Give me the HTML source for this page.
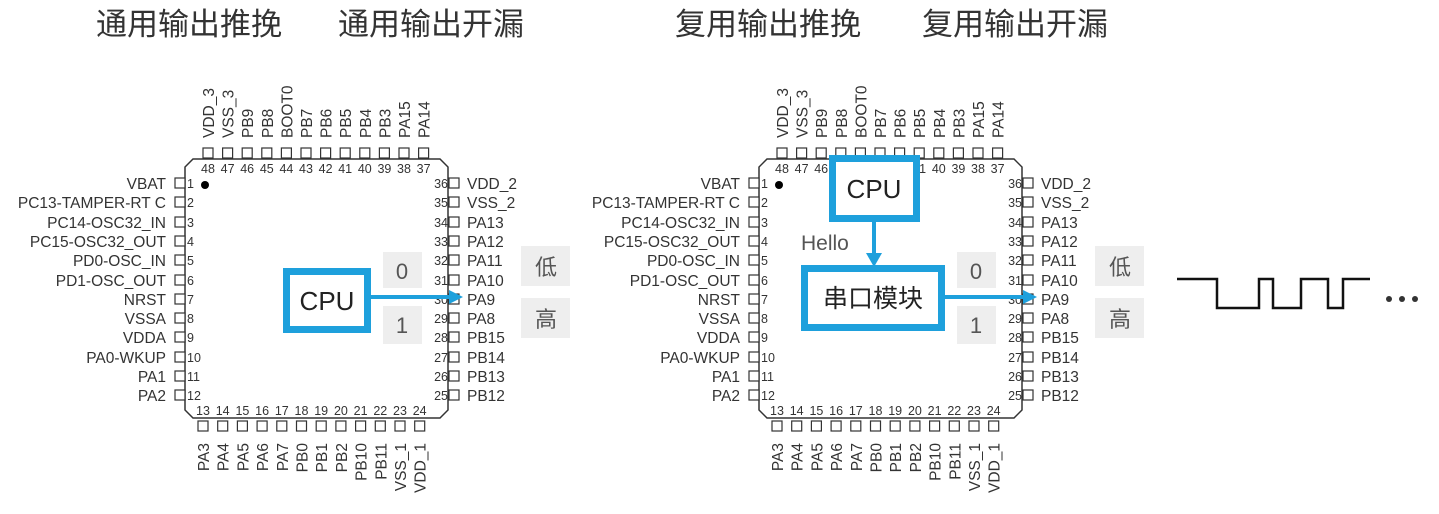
<!DOCTYPE html>
<html><head><meta charset="utf-8"><style>
html,body{margin:0;padding:0;background:#fff;width:1439px;height:514px;overflow:hidden}
svg{display:block}
.t{font-family:"Liberation Sans","Noto Sans CJK SC",sans-serif;fill:#333}
.pl{font-size:15.5px}
.pn{font-size:12.5px}
.ti{font-size:31px;fill:#333;font-family:"Noto Sans CJK SC","WenQuanYi Zen Hei",sans-serif}
.big{font-family:"Liberation Sans","Noto Sans CJK SC",sans-serif;font-size:26px;fill:#222}
.g{font-family:"Liberation Sans","Noto Sans CJK SC",sans-serif;font-size:22px;fill:#555}
</style></head><body>
<svg width="1439" height="514" viewBox="0 0 1439 514" xmlns="http://www.w3.org/2000/svg">
<text class="ti" x="96" y="35">通用输出推挽</text>
<text class="ti" x="338" y="35">通用输出开漏</text>
<text class="ti" x="675" y="35">复用输出推挽</text>
<text class="ti" x="922" y="35">复用输出开漏</text>

<g>
<path d="M193 159 H440 L448 167 V410 L440 418 H193 L185 410 V167 Z" fill="none" stroke="#333" stroke-width="1.5"/>
<circle cx="205" cy="185" r="4" fill="#000"/>
<g fill="#fff" stroke="#333" stroke-width="1.2">
<rect x="175" y="178" width="10" height="10"/><rect x="175" y="197" width="10" height="10"/><rect x="175" y="217" width="10" height="10"/><rect x="175" y="236" width="10" height="10"/><rect x="175" y="255" width="10" height="10"/><rect x="175" y="275" width="10" height="10"/><rect x="175" y="294" width="10" height="10"/><rect x="175" y="313" width="10" height="10"/><rect x="175" y="332" width="10" height="10"/><rect x="175" y="352" width="10" height="10"/><rect x="175" y="371" width="10" height="10"/><rect x="175" y="390" width="10" height="10"/>
<rect x="449" y="178" width="10" height="10"/><rect x="449" y="197" width="10" height="10"/><rect x="449" y="217" width="10" height="10"/><rect x="449" y="236" width="10" height="10"/><rect x="449" y="255" width="10" height="10"/><rect x="449" y="275" width="10" height="10"/><rect x="449" y="294" width="10" height="10"/><rect x="449" y="313" width="10" height="10"/><rect x="449" y="332" width="10" height="10"/><rect x="449" y="352" width="10" height="10"/><rect x="449" y="371" width="10" height="10"/><rect x="449" y="390" width="10" height="10"/>
<rect x="203" y="148" width="10" height="10"/><rect x="222.6" y="148" width="10" height="10"/><rect x="242.2" y="148" width="10" height="10"/><rect x="261.8" y="148" width="10" height="10"/><rect x="281.4" y="148" width="10" height="10"/><rect x="301" y="148" width="10" height="10"/><rect x="320.6" y="148" width="10" height="10"/><rect x="340.2" y="148" width="10" height="10"/><rect x="359.8" y="148" width="10" height="10"/><rect x="379.4" y="148" width="10" height="10"/><rect x="399" y="148" width="10" height="10"/><rect x="418.6" y="148" width="10" height="10"/>
<rect x="198" y="421" width="10" height="10"/><rect x="217.7" y="421" width="10" height="10"/><rect x="237.4" y="421" width="10" height="10"/><rect x="257.1" y="421" width="10" height="10"/><rect x="276.8" y="421" width="10" height="10"/><rect x="296.5" y="421" width="10" height="10"/><rect x="316.2" y="421" width="10" height="10"/><rect x="335.9" y="421" width="10" height="10"/><rect x="355.6" y="421" width="10" height="10"/><rect x="375.3" y="421" width="10" height="10"/><rect x="395" y="421" width="10" height="10"/><rect x="414.7" y="421" width="10" height="10"/>
</g>
<g class="t pl" text-anchor="end">
<text x="166" y="189">VBAT</text><text x="166" y="208">PC13-TAMPER-RT C</text><text x="166" y="228">PC14-OSC32_IN</text><text x="166" y="247">PC15-OSC32_OUT</text><text x="166" y="266">PD0-OSC_IN</text><text x="166" y="286">PD1-OSC_OUT</text><text x="166" y="305">NRST</text><text x="166" y="324">VSSA</text><text x="166" y="343">VDDA</text><text x="166" y="363">PA0-WKUP</text><text x="166" y="382">PA1</text><text x="166" y="401">PA2</text>
</g>
<g class="t pl">
<text x="467" y="189">VDD_2</text><text x="467" y="208">VSS_2</text><text x="467" y="228">PA13</text><text x="467" y="247">PA12</text><text x="467" y="266">PA11</text><text x="467" y="286">PA10</text><text x="467" y="305">PA9</text><text x="467" y="324">PA8</text><text x="467" y="343">PB15</text><text x="467" y="363">PB14</text><text x="467" y="382">PB13</text><text x="467" y="401">PB12</text>
</g>
<g class="t pn">
<text x="187" y="188">1</text><text x="187" y="207">2</text><text x="187" y="227">3</text><text x="187" y="246">4</text><text x="187" y="265">5</text><text x="187" y="285">6</text><text x="187" y="304">7</text><text x="187" y="323">8</text><text x="187" y="342">9</text><text x="187" y="362">10</text><text x="187" y="381">11</text><text x="187" y="400">12</text>
</g>
<g class="t pn" text-anchor="end">
<text x="448" y="188">36</text><text x="448" y="207">35</text><text x="448" y="227">34</text><text x="448" y="246">33</text><text x="448" y="265">32</text><text x="448" y="285">31</text><text x="448" y="304">30</text><text x="448" y="323">29</text><text x="448" y="342">28</text><text x="448" y="362">27</text><text x="448" y="381">26</text><text x="448" y="400">25</text>
</g>
<g class="t pn" text-anchor="middle">
<text x="208" y="173">48</text><text x="227.6" y="173">47</text><text x="247.2" y="173">46</text><text x="266.8" y="173">45</text><text x="286.4" y="173">44</text><text x="306" y="173">43</text><text x="325.6" y="173">42</text><text x="345.2" y="173">41</text><text x="364.8" y="173">40</text><text x="384.4" y="173">39</text><text x="404" y="173">38</text><text x="423.6" y="173">37</text>
<text x="203" y="415">13</text><text x="222.7" y="415">14</text><text x="242.4" y="415">15</text><text x="262.1" y="415">16</text><text x="281.8" y="415">17</text><text x="301.5" y="415">18</text><text x="321.2" y="415">19</text><text x="340.9" y="415">20</text><text x="360.6" y="415">21</text><text x="380.3" y="415">22</text><text x="400" y="415">23</text><text x="419.7" y="415">24</text>
</g>
<g class="t pl">
<text transform="translate(214,138) rotate(-90)">VDD_3</text><text transform="translate(233.6,138) rotate(-90)">VSS_3</text><text transform="translate(253.2,138) rotate(-90)">PB9</text><text transform="translate(272.8,138) rotate(-90)">PB8</text><text transform="translate(292.4,138) rotate(-90)">BOOT0</text><text transform="translate(312,138) rotate(-90)">PB7</text><text transform="translate(331.6,138) rotate(-90)">PB6</text><text transform="translate(351.2,138) rotate(-90)">PB5</text><text transform="translate(370.8,138) rotate(-90)">PB4</text><text transform="translate(390.4,138) rotate(-90)">PB3</text><text transform="translate(410,138) rotate(-90)">PA15</text><text transform="translate(429.6,138) rotate(-90)">PA14</text>
</g>
<g class="t pl" text-anchor="end">
<text transform="translate(209,443) rotate(-90)">PA3</text><text transform="translate(228.7,443) rotate(-90)">PA4</text><text transform="translate(248.4,443) rotate(-90)">PA5</text><text transform="translate(268.1,443) rotate(-90)">PA6</text><text transform="translate(287.8,443) rotate(-90)">PA7</text><text transform="translate(307.5,443) rotate(-90)">PB0</text><text transform="translate(327.2,443) rotate(-90)">PB1</text><text transform="translate(346.9,443) rotate(-90)">PB2</text><text transform="translate(366.6,443) rotate(-90)">PB10</text><text transform="translate(386.3,443) rotate(-90)">PB11</text><text transform="translate(406,443) rotate(-90)">VSS_1</text><text transform="translate(425.7,443) rotate(-90)">VDD_1</text>
</g>
</g>

<g transform="translate(574,0)">
<path d="M193 159 H440 L448 167 V410 L440 418 H193 L185 410 V167 Z" fill="none" stroke="#333" stroke-width="1.5"/>
<circle cx="205" cy="185" r="4" fill="#000"/>
<g fill="#fff" stroke="#333" stroke-width="1.2">
<rect x="175" y="178" width="10" height="10"/><rect x="175" y="197" width="10" height="10"/><rect x="175" y="217" width="10" height="10"/><rect x="175" y="236" width="10" height="10"/><rect x="175" y="255" width="10" height="10"/><rect x="175" y="275" width="10" height="10"/><rect x="175" y="294" width="10" height="10"/><rect x="175" y="313" width="10" height="10"/><rect x="175" y="332" width="10" height="10"/><rect x="175" y="352" width="10" height="10"/><rect x="175" y="371" width="10" height="10"/><rect x="175" y="390" width="10" height="10"/>
<rect x="449" y="178" width="10" height="10"/><rect x="449" y="197" width="10" height="10"/><rect x="449" y="217" width="10" height="10"/><rect x="449" y="236" width="10" height="10"/><rect x="449" y="255" width="10" height="10"/><rect x="449" y="275" width="10" height="10"/><rect x="449" y="294" width="10" height="10"/><rect x="449" y="313" width="10" height="10"/><rect x="449" y="332" width="10" height="10"/><rect x="449" y="352" width="10" height="10"/><rect x="449" y="371" width="10" height="10"/><rect x="449" y="390" width="10" height="10"/>
<rect x="203" y="148" width="10" height="10"/><rect x="222.6" y="148" width="10" height="10"/><rect x="242.2" y="148" width="10" height="10"/><rect x="261.8" y="148" width="10" height="10"/><rect x="281.4" y="148" width="10" height="10"/><rect x="301" y="148" width="10" height="10"/><rect x="320.6" y="148" width="10" height="10"/><rect x="340.2" y="148" width="10" height="10"/><rect x="359.8" y="148" width="10" height="10"/><rect x="379.4" y="148" width="10" height="10"/><rect x="399" y="148" width="10" height="10"/><rect x="418.6" y="148" width="10" height="10"/>
<rect x="198" y="421" width="10" height="10"/><rect x="217.7" y="421" width="10" height="10"/><rect x="237.4" y="421" width="10" height="10"/><rect x="257.1" y="421" width="10" height="10"/><rect x="276.8" y="421" width="10" height="10"/><rect x="296.5" y="421" width="10" height="10"/><rect x="316.2" y="421" width="10" height="10"/><rect x="335.9" y="421" width="10" height="10"/><rect x="355.6" y="421" width="10" height="10"/><rect x="375.3" y="421" width="10" height="10"/><rect x="395" y="421" width="10" height="10"/><rect x="414.7" y="421" width="10" height="10"/>
</g>
<g class="t pl" text-anchor="end">
<text x="166" y="189">VBAT</text><text x="166" y="208">PC13-TAMPER-RT C</text><text x="166" y="228">PC14-OSC32_IN</text><text x="166" y="247">PC15-OSC32_OUT</text><text x="166" y="266">PD0-OSC_IN</text><text x="166" y="286">PD1-OSC_OUT</text><text x="166" y="305">NRST</text><text x="166" y="324">VSSA</text><text x="166" y="343">VDDA</text><text x="166" y="363">PA0-WKUP</text><text x="166" y="382">PA1</text><text x="166" y="401">PA2</text>
</g>
<g class="t pl">
<text x="467" y="189">VDD_2</text><text x="467" y="208">VSS_2</text><text x="467" y="228">PA13</text><text x="467" y="247">PA12</text><text x="467" y="266">PA11</text><text x="467" y="286">PA10</text><text x="467" y="305">PA9</text><text x="467" y="324">PA8</text><text x="467" y="343">PB15</text><text x="467" y="363">PB14</text><text x="467" y="382">PB13</text><text x="467" y="401">PB12</text>
</g>
<g class="t pn">
<text x="187" y="188">1</text><text x="187" y="207">2</text><text x="187" y="227">3</text><text x="187" y="246">4</text><text x="187" y="265">5</text><text x="187" y="285">6</text><text x="187" y="304">7</text><text x="187" y="323">8</text><text x="187" y="342">9</text><text x="187" y="362">10</text><text x="187" y="381">11</text><text x="187" y="400">12</text>
</g>
<g class="t pn" text-anchor="end">
<text x="448" y="188">36</text><text x="448" y="207">35</text><text x="448" y="227">34</text><text x="448" y="246">33</text><text x="448" y="265">32</text><text x="448" y="285">31</text><text x="448" y="304">30</text><text x="448" y="323">29</text><text x="448" y="342">28</text><text x="448" y="362">27</text><text x="448" y="381">26</text><text x="448" y="400">25</text>
</g>
<g class="t pn" text-anchor="middle">
<text x="208" y="173">48</text><text x="227.6" y="173">47</text><text x="247.2" y="173">46</text><text x="266.8" y="173">45</text><text x="286.4" y="173">44</text><text x="306" y="173">43</text><text x="325.6" y="173">42</text><text x="345.2" y="173">41</text><text x="364.8" y="173">40</text><text x="384.4" y="173">39</text><text x="404" y="173">38</text><text x="423.6" y="173">37</text>
<text x="203" y="415">13</text><text x="222.7" y="415">14</text><text x="242.4" y="415">15</text><text x="262.1" y="415">16</text><text x="281.8" y="415">17</text><text x="301.5" y="415">18</text><text x="321.2" y="415">19</text><text x="340.9" y="415">20</text><text x="360.6" y="415">21</text><text x="380.3" y="415">22</text><text x="400" y="415">23</text><text x="419.7" y="415">24</text>
</g>
<g class="t pl">
<text transform="translate(214,138) rotate(-90)">VDD_3</text><text transform="translate(233.6,138) rotate(-90)">VSS_3</text><text transform="translate(253.2,138) rotate(-90)">PB9</text><text transform="translate(272.8,138) rotate(-90)">PB8</text><text transform="translate(292.4,138) rotate(-90)">BOOT0</text><text transform="translate(312,138) rotate(-90)">PB7</text><text transform="translate(331.6,138) rotate(-90)">PB6</text><text transform="translate(351.2,138) rotate(-90)">PB5</text><text transform="translate(370.8,138) rotate(-90)">PB4</text><text transform="translate(390.4,138) rotate(-90)">PB3</text><text transform="translate(410,138) rotate(-90)">PA15</text><text transform="translate(429.6,138) rotate(-90)">PA14</text>
</g>
<g class="t pl" text-anchor="end">
<text transform="translate(209,443) rotate(-90)">PA3</text><text transform="translate(228.7,443) rotate(-90)">PA4</text><text transform="translate(248.4,443) rotate(-90)">PA5</text><text transform="translate(268.1,443) rotate(-90)">PA6</text><text transform="translate(287.8,443) rotate(-90)">PA7</text><text transform="translate(307.5,443) rotate(-90)">PB0</text><text transform="translate(327.2,443) rotate(-90)">PB1</text><text transform="translate(346.9,443) rotate(-90)">PB2</text><text transform="translate(366.6,443) rotate(-90)">PB10</text><text transform="translate(386.3,443) rotate(-90)">PB11</text><text transform="translate(406,443) rotate(-90)">VSS_1</text><text transform="translate(425.7,443) rotate(-90)">VDD_1</text>
</g>
</g>

<g fill="#eeeeee">
<rect x="383" y="252" width="39" height="36"/><rect x="383" y="306" width="39" height="38"/>
<rect x="521" y="246" width="49" height="40"/><rect x="521" y="298" width="49" height="40"/>
<rect x="957" y="252" width="39" height="36"/><rect x="957" y="306" width="39" height="38"/>
<rect x="1095" y="246" width="49" height="40"/><rect x="1095" y="298" width="49" height="40"/>
</g>
<g class="g" text-anchor="middle">
<text x="402" y="279">0</text><text x="402" y="333">1</text>
<text x="546" y="275">低</text><text x="546" y="327">高</text>
<text x="976" y="279">0</text><text x="976" y="333">1</text>
<text x="1120" y="275">低</text><text x="1120" y="327">高</text>
</g>
<rect x="286.5" y="271.5" width="81" height="58" fill="#fff" stroke="#1ea0dc" stroke-width="7"/>
<text class="big" x="327" y="310" text-anchor="middle">CPU</text>
<line x1="371" y1="297" x2="452" y2="297" stroke="#1ea0dc" stroke-width="4"/>
<path d="M449 290 L463 297 L449 304 Z" fill="#1ea0dc"/>

<rect x="832.5" y="158.5" width="84" height="60" fill="#fff" stroke="#1ea0dc" stroke-width="7"/>
<text class="big" x="874" y="198" text-anchor="middle">CPU</text>
<line x1="874" y1="222" x2="874" y2="256" stroke="#1ea0dc" stroke-width="4"/>
<path d="M866 253 L874 267 L882 253 Z" fill="#1ea0dc"/>
<text x="801" y="250" style="font-family:'Liberation Sans',sans-serif;font-size:21px;fill:#555">Hello</text>
<rect x="804.5" y="268.5" width="137" height="59" fill="#fff" stroke="#1ea0dc" stroke-width="7"/>
<text class="big" x="873" y="307" text-anchor="middle" style="font-family:'Noto Sans CJK SC',sans-serif;font-size:25px">串口模块</text>
<line x1="945" y1="297" x2="1026" y2="297" stroke="#1ea0dc" stroke-width="4"/>
<path d="M1023 290 L1037 297 L1023 304 Z" fill="#1ea0dc"/>

<path d="M1177 279 H1217 V308 H1259 V279 H1273 V308 H1301 V279 H1328 V308 H1343 V279 H1370" fill="none" stroke="#111" stroke-width="2.5"/>
<circle cx="1389" cy="299" r="3" fill="#333"/><circle cx="1402" cy="299" r="3" fill="#333"/><circle cx="1415" cy="299" r="3" fill="#333"/>
</svg>
</body></html>
